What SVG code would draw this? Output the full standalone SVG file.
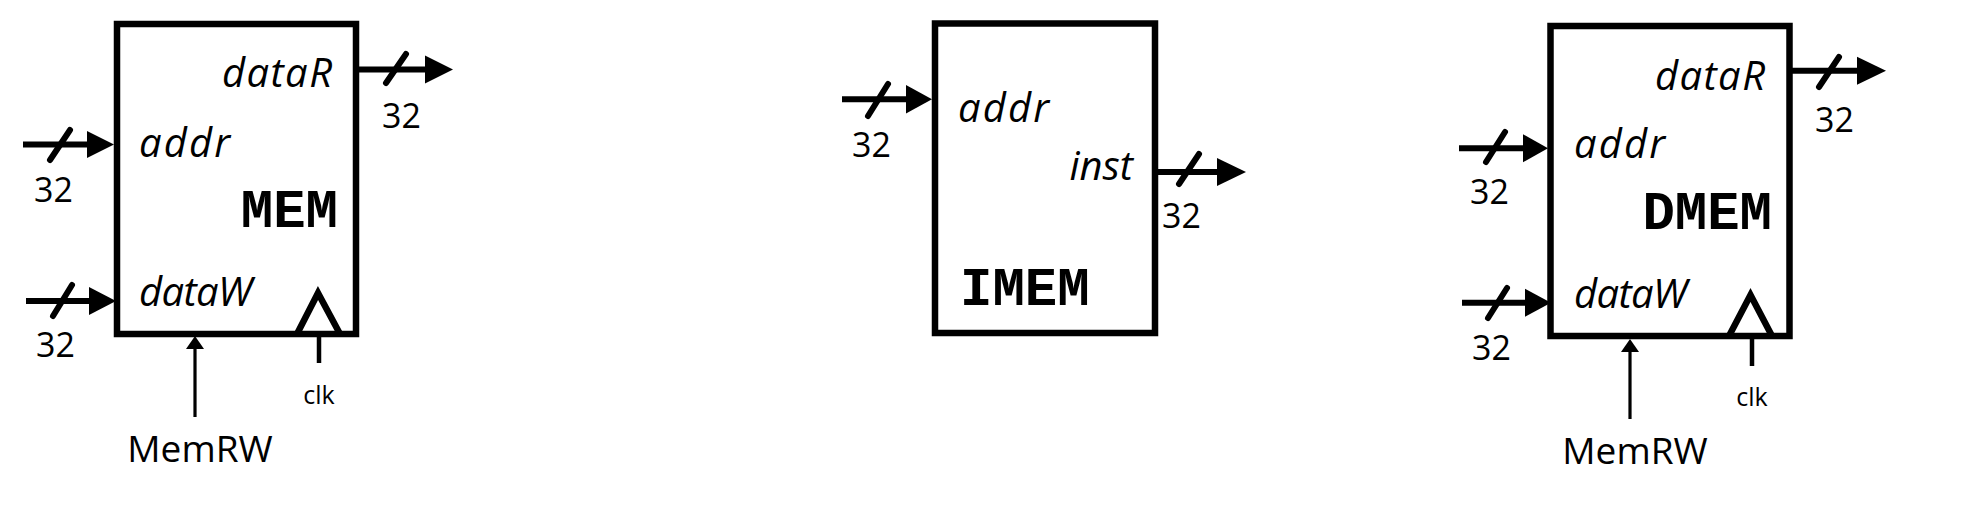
<svg xmlns="http://www.w3.org/2000/svg" width="1967" height="516" viewBox="0 0 1967 516">
<style>
.box{fill:#fff;stroke:#000;stroke-width:6.5}
.bus{stroke:#000;stroke-width:6;fill:none}
.slash{stroke:#000;stroke-width:6;stroke-linecap:round;fill:none}
.thin{stroke:#000;stroke-width:3.2;fill:none}
.clkl{stroke:#000;stroke-width:4.5;fill:none}
.tri{stroke:#000;stroke-width:6.5;fill:none;stroke-linejoin:miter}
.head{fill:#000}
.port{font-family:"Open Sans","Noto Sans",sans-serif;font-style:italic;font-size:40px;fill:#000}
.num{font-family:"Open Sans","Noto Sans",sans-serif;font-size:34px;fill:#000}
.sig{font-family:"Open Sans","Noto Sans",sans-serif;font-size:37px;fill:#000}
.clk{font-family:"Open Sans","Noto Sans",sans-serif;font-size:25px;fill:#000}
.name{font-family:"Courier New","Liberation Mono",monospace;font-weight:bold;font-size:54px;fill:#000}
</style>
<g id="connectors">
  <!-- MEM -->
  <line class="bus" x1="359" y1="69.5" x2="428" y2="69.5"/>
  <polygon class="head" points="425,55.5 453,69.5 425,83.5"/>
  <line class="slash" x1="386" y1="83" x2="406" y2="54"/>
  <line class="bus" x1="23" y1="144.5" x2="90" y2="144.5"/>
  <polygon class="head" points="87,131 114,144.5 87,158"/>
  <line class="slash" x1="50" y1="160" x2="70" y2="130"/>
  <line class="bus" x1="26" y1="301" x2="92" y2="301"/>
  <polygon class="head" points="89,287 116,301 89,315"/>
  <line class="slash" x1="53" y1="316" x2="72" y2="285"/>
  <line class="thin" x1="195" y1="417" x2="195" y2="347"/>
  <polygon class="head" points="186,349 195,336 204,349"/>
  <line class="clkl" x1="319" y1="337" x2="319" y2="363"/>
  <!-- IMEM -->
  <line class="bus" x1="842" y1="99.3" x2="909" y2="99.3"/>
  <polygon class="head" points="906,85 932,99.3 906,113.6"/>
  <line class="slash" x1="868" y1="116" x2="888" y2="84"/>
  <line class="bus" x1="1158" y1="172" x2="1220" y2="172"/>
  <polygon class="head" points="1217,158 1246,172 1217,186"/>
  <line class="slash" x1="1179" y1="184" x2="1199" y2="154"/>
  <!-- DMEM -->
  <line class="bus" x1="1792" y1="70.7" x2="1860" y2="70.7"/>
  <polygon class="head" points="1857,56.7 1886,70.7 1857,84.7"/>
  <line class="slash" x1="1819" y1="87" x2="1839" y2="57"/>
  <line class="bus" x1="1459" y1="148.3" x2="1526" y2="148.3"/>
  <polygon class="head" points="1523,134.3 1548,148.3 1523,162.3"/>
  <line class="slash" x1="1486" y1="162" x2="1505" y2="132"/>
  <line class="bus" x1="1462" y1="302.7" x2="1528" y2="302.7"/>
  <polygon class="head" points="1525,288.7 1551,302.7 1525,316.7"/>
  <line class="slash" x1="1488" y1="318" x2="1507" y2="288"/>
  <line class="thin" x1="1630" y1="419" x2="1630" y2="350"/>
  <polygon class="head" points="1621,352 1630,339 1639,352"/>
  <line class="clkl" x1="1752" y1="339" x2="1752" y2="366"/>
</g>
<g id="mem">
  <rect class="box" x="117" y="24" width="239" height="310"/>
  <polyline class="tri" points="297,334 318,293 340,334"/>
  <text class="port" x="332" y="87" text-anchor="end" textLength="110" lengthAdjust="spacing">dataR</text>
  <text class="port" x="139" y="157" textLength="91" lengthAdjust="spacing">addr</text>
  <text class="port" x="139" y="306" textLength="113" lengthAdjust="spacing">dataW</text>
  <text class="name" x="338" y="227" text-anchor="end">MEM</text>
  <text class="num" x="382" y="128">32</text>
  <text class="num" x="34" y="202">32</text>
  <text class="num" x="36" y="357">32</text>
  <text class="clk" x="319" y="404" text-anchor="middle">clk</text>
  <text class="sig" x="200" y="462" text-anchor="middle">MemRW</text>
</g>
<g id="imem">
  <rect class="box" x="935" y="23.5" width="220" height="309.5"/>
  <text class="port" x="958" y="122" textLength="91" lengthAdjust="spacing">addr</text>
  <text class="port" x="1133" y="180" text-anchor="end">inst</text>
  <text class="name" x="960" y="305">IMEM</text>
  <text class="num" x="852" y="157">32</text>
  <text class="num" x="1162" y="228">32</text>
</g>
<g id="dmem">
  <rect class="box" x="1550.5" y="26" width="239" height="310"/>
  <polyline class="tri" points="1729,336 1750.5,295 1772,336"/>
  <text class="port" x="1765" y="90" text-anchor="end" textLength="110" lengthAdjust="spacing">dataR</text>
  <text class="port" x="1574" y="158" textLength="91" lengthAdjust="spacing">addr</text>
  <text class="port" x="1574" y="308" textLength="113" lengthAdjust="spacing">dataW</text>
  <text class="name" x="1772" y="229" text-anchor="end">DMEM</text>
  <text class="num" x="1815" y="132">32</text>
  <text class="num" x="1470" y="204">32</text>
  <text class="num" x="1472" y="360">32</text>
  <text class="clk" x="1752" y="406" text-anchor="middle">clk</text>
  <text class="sig" x="1635" y="464" text-anchor="middle">MemRW</text>
</g>
</svg>
